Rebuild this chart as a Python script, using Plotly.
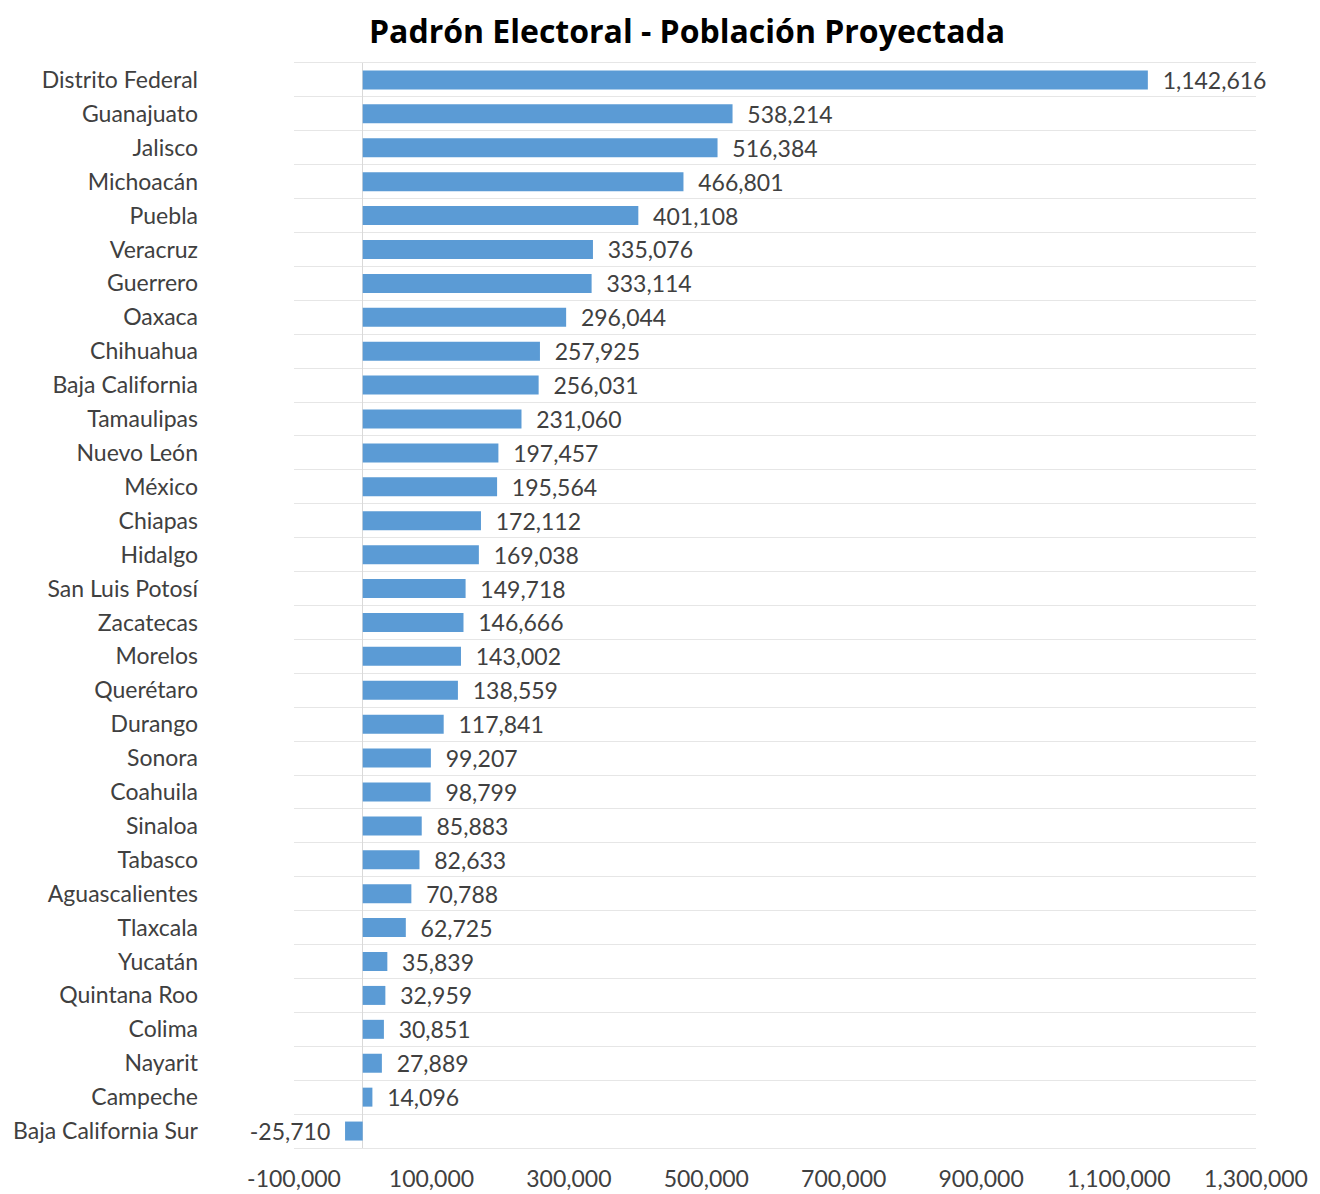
import plotly.graph_objects as go

states = ["Distrito Federal", "Guanajuato", "Jalisco", "Michoacán", "Puebla", "Veracruz",
          "Guerrero", "Oaxaca", "Chihuahua", "Baja California", "Tamaulipas", "Nuevo León",
          "México", "Chiapas", "Hidalgo", "San Luis Potosí", "Zacatecas", "Morelos",
          "Querétaro", "Durango", "Sonora", "Coahuila", "Sinaloa", "Tabasco",
          "Aguascalientes", "Tlaxcala", "Yucatán", "Quintana Roo", "Colima", "Nayarit",
          "Campeche", "Baja California Sur"]
values = [1142616, 538214, 516384, 466801, 401108, 335076, 333114, 296044, 257925, 256031,
          231060, 197457, 195564, 172112, 169038, 149718, 146666, 143002, 138559, 117841,
          99207, 98799, 85883, 82633, 70788, 62725, 35839, 32959, 30851, 27889, 14096, -25710]
x_ticks = list(range(-100000, 1300001, 200000))

FONT = "Lato, 'Open Sans', sans-serif"
TXT = "#404040"
W, H = 1312, 1186
PAD = "\u00a0\u00a0"

labels = [(PAD + f"{v:,}") if v >= 0 else (f"{v:,}" + PAD) for v in values]

fig = go.Figure(go.Bar(
    y=states, x=values, orientation="h",
    marker=dict(color="#5b9bd5", line=dict(width=0)),
    text=labels, textposition="outside", constraintext="none",
    textfont=dict(family=FONT, size=23, color=TXT), cliponaxis=False,
))

fig.update_layout(
    width=W, height=H,
    margin=dict(l=286, r=64, t=55, b=46, autoexpand=False),
    paper_bgcolor="white", plot_bgcolor="white",
    bargap=0.44,
    showlegend=False,
    title=dict(text="<b>Padrón Electoral - Población Proyectada</b>", x=679 / W, xanchor="center",
               y=1 - 24 / H, yref="container", yanchor="middle",
               font=dict(family="'Open Sans', Lato, sans-serif", size=32, color="black")),
    font=dict(family=FONT, color=TXT),
)
fig.update_xaxes(range=[-100000, 1300000], tickvals=x_ticks, ticktext=[f"{v:,}" for v in x_ticks],
                 showgrid=False, zeroline=True, zerolinecolor="#d9d9d9", zerolinewidth=1,
                 tickfont=dict(family=FONT, size=23, color=TXT), ticks="", ticklabelstandoff=10,
                 showline=True, mirror=True, linecolor="#e6e6e6", linewidth=1, automargin=False)
fig.update_yaxes(categoryorder="array", categoryarray=states, autorange="reversed",
                 tickson="boundaries", showgrid=True, gridcolor="#e6e6e6", gridwidth=1,
                 ticks="", ticklen=0, showline=False, zeroline=False, automargin=False,
                 tickfont=dict(family=FONT, size=23, color=TXT), ticklabelstandoff=95)

fig.write_html("out.html")
